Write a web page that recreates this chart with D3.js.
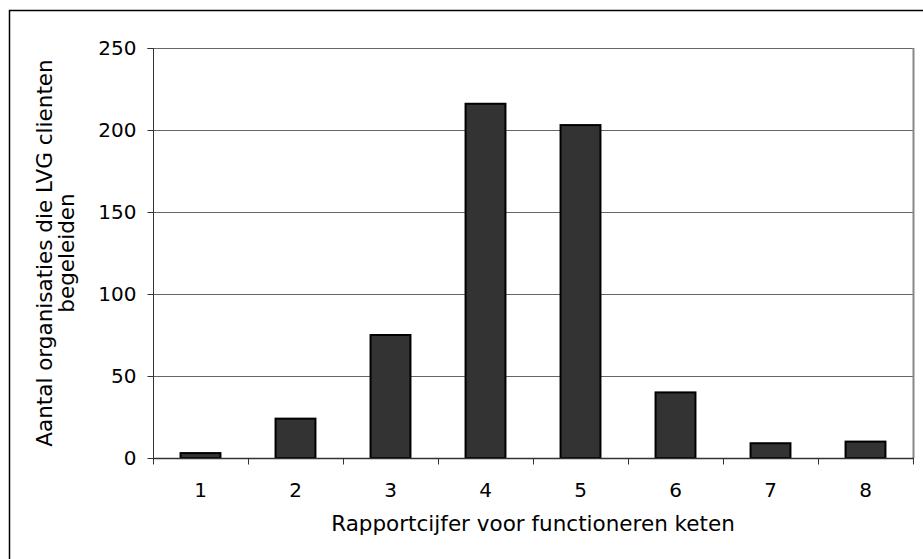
<!DOCTYPE html>
<html>
<head>
<meta charset="utf-8">
<script src="https://cdn.jsdelivr.net/npm/d3@7"></script>
<style>
  body { margin: 0; background: #fff; }
  text { font-family: "DejaVu Sans", Verdana, sans-serif; fill: #000; }
</style>
</head>
<body>
<div id="chart"></div>
<script>
const categories = ['1', '2', '3', '4', '5', '6', '7', '8'];
const counts = [3, 24, 75, 216, 203, 40, 9, 10];
const yTicks = [0, 50, 100, 150, 200, 250];

const width = 923, height = 559;
const margin = { top: 48, right: 10, bottom: 101, left: 153 };

const svg = d3.select('#chart')
    .append('svg')
    .attr('width', width)
    .attr('height', height);

// outer frame (runs off the right and bottom edges)
svg.append('rect')
    .attr('x', 9.5).attr('y', 10.5)
    .attr('width', 930).attr('height', 560)
    .attr('fill', 'none')
    .attr('stroke', '#000')
    .attr('stroke-width', 1.5);

const x = d3.scaleBand()
    .domain(categories)
    .range([margin.left, width - margin.right]);

const y = d3.scaleLinear()
    .domain([0, 250])
    .range([height - margin.bottom, margin.top]);

// gridlines
svg.append('g')
    .selectAll('line')
    .data(yTicks.slice(1))
    .enter()
    .append('line')
    .attr('x1', margin.left).attr('x2', width - margin.right)
    .attr('y1', d => y(d) + 0.5).attr('y2', d => y(d) + 0.5)
    .attr('stroke', '#666')
    .attr('stroke-width', 1);

// plot frame right edge
svg.append('line')
    .attr('x1', width - margin.right + 0.5).attr('x2', width - margin.right + 0.5)
    .attr('y1', margin.top).attr('y2', y(0))
    .attr('stroke', '#888')
    .attr('stroke-width', 2);

// bars
const barW = x.bandwidth() * 0.42;
svg.append('g')
    .selectAll('rect')
    .data(counts)
    .enter()
    .append('rect')
    .attr('x', (d, i) => x(categories[i]) + (x.bandwidth() - barW) / 2)
    .attr('y', d => y(d))
    .attr('width', barW)
    .attr('height', d => y(0) - y(d))
    .attr('fill', '#333')
    .attr('stroke', '#000')
    .attr('stroke-width', 2);

// y axis
const yAxis = svg.append('g')
    .attr('transform', `translate(${margin.left + 0.5},0)`)
    .call(d3.axisLeft(y).tickValues(yTicks).tickSize(6).tickPadding(11));
yAxis.selectAll('text').style('font-size', '20px');
yAxis.selectAll('line, path').attr('stroke', '#333');
yAxis.select('.domain').attr('d', `M-6,${y(250) + 0.5}H0V${y(0)}`);

// x axis
const xTickPos = categories.map(c => x(c)).concat([width - margin.right]);
const xAxisG = svg.append('g')
    .attr('transform', `translate(0,${y(0) + 0.5})`);
xAxisG.append('line')
    .attr('x1', margin.left).attr('x2', width - margin.right + 1)
    .attr('stroke', '#333').attr('stroke-width', 1.5);
xAxisG.selectAll('.tick')
    .data(xTickPos)
    .enter()
    .append('line')
    .attr('x1', d => d + 0.5).attr('x2', d => d + 0.5)
    .attr('y1', 0).attr('y2', 6)
    .attr('stroke', '#333');
xAxisG.selectAll('.lbl')
    .data(categories)
    .enter()
    .append('text')
    .attr('x', d => x(d) + x.bandwidth() / 2)
    .attr('y', 38)
    .attr('text-anchor', 'middle')
    .style('font-size', '20px')
    .text(d => d);

// axis titles
svg.append('text')
    .attr('x', (margin.left + width - margin.right) / 2)
    .attr('y', 531)
    .attr('text-anchor', 'middle')
    .style('font-size', '21.5px')
    .text('Rapportcijfer voor functioneren keten');

const yTitle = svg.append('text')
    .attr('transform', `translate(0,${(y(0) + y(250)) / 2}) rotate(-90)`)
    .attr('text-anchor', 'middle')
    .style('font-size', '21.5px');
yTitle.append('tspan').attr('x', 0).attr('y', 52).text('Aantal organisaties die LVG clienten');
yTitle.append('tspan').attr('x', 0).attr('y', 74).text('begeleiden');
</script>
</body>
</html>
